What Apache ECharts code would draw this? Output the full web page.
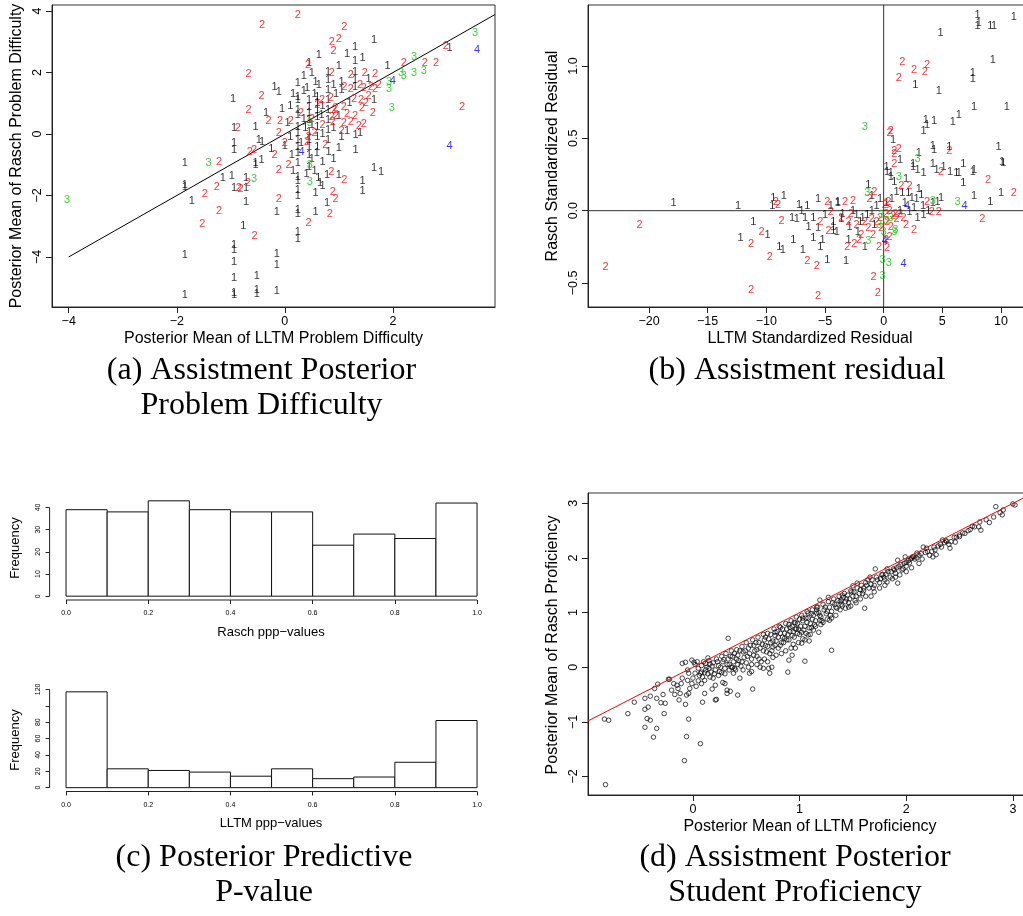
<!DOCTYPE html>
<html><head><meta charset="utf-8">
<script src="https://cdn.jsdelivr.net/npm/echarts@6/dist/echarts.min.js"></script>
<style>html,body{margin:0;padding:0;background:#fff}#c{width:1023px;height:916px}</style>
</head><body><div id="c"></div>
<script>
// ---------- Panel (a): posterior problem difficulty (label = skill count) ----------
const a1 = [[-0.96,1.14],[-0.94,0.2],[-0.94,-0.3],[-0.94,-0.52],[-1.85,-0.94],[-1.15,-1.43],[-0.98,-1.37],[-1.85,-1.72],[-1.85,-1.66],[-0.94,-1.77],[-0.72,-1.77],[-1.72,-2.18],[-0.72,-2.2],[-0.77,-3.0],[-0.94,-3.6],[-0.94,-3.78],[-1.85,-3.94],[-0.94,-4.17],[-0.94,-4.7],[-1.85,-5.24],[-0.94,-5.24],[-0.94,-5.16],
[-0.54,-0.94],[0.24,-0.95],[1.65,-1.1],[1.78,-1.24],[-0.72,-1.43],[0.24,-1.4],[0.24,-1.52],[0.62,-1.44],[0.65,-1.6],[0.78,-1.34],[1.0,-1.34],[1.44,-1.53],[1.44,-1.86],[0.24,-1.82],[0.24,-2.0],[0.57,-1.92],[0.78,-2.25],[-0.15,-2.55],[0.24,-2.48],[0.24,-2.6],[0.57,-2.55],[0.24,-3.2],[0.24,-3.42],[-0.15,-3.9],[-0.15,-4.27],[-0.52,-4.63],[-0.52,-5.08],[-0.52,-5.2],[-0.15,-5.1],
[1.65,3.06],[1.3,2.84],[0.63,2.57],[1.3,2.38],[1.44,2.47],[0.45,2.3],[3.05,2.8],
[0.24,1.66],[0.41,1.5],[0.57,1.7],[0.63,1.6],[-0.19,1.53],[-0.11,1.37],[1.65,1.11],[1.31,-0.03],[1.39,0.03],[-0.54,0.23],[-0.48,-0.2],[-0.42,-0.26],[0.13,-0.68],[0.59,-0.63],[0.81,-0.58],[1.0,-0.46],[1.31,-0.52],[-0.43,-0.85],[-0.54,-1.0],
[0.24,1.2],[0.24,1.11],[0.24,0.78],[0.24,0.62],[0.24,0.23],[0.24,0.03],[0.24,-0.2],[0.24,-0.42],[0.24,-0.62],
[0.45,1.11],[0.45,0.88],[0.45,0.68],[0.45,0.46],[0.45,0.07],[0.45,-0.2],[0.45,-0.42],[0.45,-0.68],[0.45,-1.07],
[0.6,1.2],[0.6,1.01],[0.6,0.78],[0.6,0.55],[0.6,0.23],[0.6,-0.1],[0.6,-0.42],
[0.8,2.02],[0.8,1.76],[0.8,1.43],[0.8,1.11],[0.8,0.78],[0.8,0.46],[0.8,0.13],[0.8,-0.2],
[1.05,1.7],[1.05,1.43],[1.05,-0.1],[1.3,2.02],[1.3,1.76],[1.3,1.53],
[0.05,0.35],[0.1,0.9],[0.15,1.3],[0.3,-0.3],[0.35,0.5],[0.35,1.4],[0.5,0.3],[0.5,-0.8],[0.55,1.3],[0.7,0.9],[0.7,0.0],[0.7,-0.9],[0.9,0.2],[0.9,-0.8],[1.0,0.6],[1.15,0.1],[1.2,1.0],[-0.05,0.8],[-0.25,-0.5],[-0.35,0.7],[0.0,-0.4],[0.15,-1.2],[0.4,-1.3],[0.55,-1.2],[0.7,-1.7],[0.35,1.9],[0.5,2.0],[1.0,2.2],[1.15,2.6],[0.9,1.6],[0.1,-0.1],[0.38,0.2],[0.68,0.62],[0.95,1.3],[1.55,1.8],[1.9,2.2]];
const a2 = [[-0.67,1.95],[-0.67,0.77],[-0.87,0.2],[-1.22,-0.91],[-1.26,-1.72],[-0.85,-1.77],[-1.48,-1.95],[-1.22,-2.5],[-1.53,-2.93],
[-0.11,-1.17],[0.07,-1.0],[0.86,-1.25],[1.1,-1.5],[-0.68,-1.6],[-0.82,-1.8],[0.89,-1.9],[0.94,-2.12],[-0.11,-2.12],[0.83,-2.59],[0.44,-2.9],[-0.56,-3.32],
[0.24,3.88],[-0.42,3.55],[1.1,3.48],[0.87,3.0],[1.0,3.1],[0.9,2.7],[0.43,2.25],[2.98,2.87],[2.2,2.31],[2.59,2.31],[2.8,2.31],[1.67,1.95],[1.48,1.98],[1.22,1.92],[0.87,1.98],[-0.43,1.24],[1.1,1.53],[1.22,1.47],[1.39,1.6],[1.46,1.5],[1.59,1.53],[1.67,1.47],[1.74,1.6],[0.69,1.11],[0.85,1.17],[0.94,0.85],[1.09,0.88],[1.28,1.14],[1.41,1.11],[1.5,1.01],[1.43,0.85],[1.63,0.68],[0.91,0.78],[0.87,0.55],[0.89,0.39],[1.22,0.39],[1.09,0.36],[1.37,0.26],[1.46,0.33],[-0.3,0.42],[-0.09,0.42],[0.11,0.42],[-0.11,0.03],[0.44,-0.1],[0.41,-0.26],[-0.65,-0.58],[-0.57,-0.52],[-0.19,-0.68],[3.28,0.87],
[0.55,0.05],[0.7,0.3],[0.95,0.6],[1.15,0.65],[1.3,0.6],[0.6,0.95],[0.75,-0.35],[1.05,0.1],[0.5,0.5],[1.55,1.25],[0.3,0.7],[0.0,-0.3]];
const a3 = [[-1.41,-0.94],[-4.03,-2.15],[0.46,-1.0],[0.46,-1.56],[-0.57,-1.45],[3.52,3.29],[2.39,2.51],[2.57,2.05],[2.39,1.98],[2.2,1.9],[2.15,1.98],[1.93,1.7],[1.93,1.46],[1.98,0.85],[0.46,0.36]];
const a4 = [[3.56,2.74],[2.0,1.73],[3.05,-0.39],[0.31,-0.58]];
const aLine = [[-4,-4],[3.89,3.89]];

// ---------- Panel (b): standardized residuals ----------
const b1 = [[-17.9,0.05],[-12.4,0.03],[-11.1,-0.08],[-12.2,-0.19],[-9.9,-0.17],[-9.4,0.09],[-9.5,0.03],[-8.9,-0.25],[-8.6,-0.27],[-6.9,-0.27],[-7.7,-0.2],[-4.8,-0.34],[-3.2,-0.35],[-6.0,-0.19],[-5.2,-0.2],[-5.4,-0.25],[-4.3,-0.14],[-8.5,0.1],[-7.2,0.04],[-6.5,0.03],[-5.6,0.08],[-3.9,0.05],[-1.3,0.18],
[-7.8,-0.05],[-7.4,-0.06],[-6.7,-0.05],[-6.0,-0.05],[-6.4,-0.11],[-5.6,-0.12],[-4.3,-0.11],[-4.0,-0.15],[-4.3,-0.08],[-3.6,-0.06],[-2.9,-0.11],[-2.3,-0.03],[-2.0,-0.08],[-4.5,0.03],[-3.9,0.06],[-3.5,-0.02],[-1.4,-0.03],[-1.0,0.0],[-0.6,0.03],
[1.1,0.13],[1.6,0.12],[2.1,0.12],[2.4,0.09],[2.8,0.08],[3.2,0.11],[3.35,0.03],[3.8,0.0],[4.2,0.05],[4.6,0.06],[4.9,0.09],[0.25,0.05],[0.7,0.08],[1.4,0.0],[2.2,-0.01],[2.9,-0.05],[3.4,-0.03],
[0.25,0.3],[0.6,0.26],[2.5,0.32],[3.4,0.26],[4.2,0.32],[4.5,0.28],[5.1,0.3],[5.65,0.27],[6.2,0.26],
[10.0,0.12],[9.1,0.06],[7.7,0.1],[6.8,0.19],[6.8,0.32],[7.7,0.28],[10.2,0.33],
[8.0,1.35],[8.0,1.28],[8.1,1.3],[9.1,1.28],[9.4,1.28],[11.1,1.34],[4.85,1.23],[9.3,1.04],[7.6,0.95],[7.6,0.91],[2.7,0.87],[4.7,0.83],[7.7,0.72],[10.5,0.72],[3.6,0.63],[4.3,0.62],[3.7,0.59],[5.9,0.61],[6.4,0.66],[3.4,0.55],[0.8,0.49],[1.4,0.35],[3.0,0.4],[4.2,0.45],[4.3,0.42],[5.6,0.44],[9.8,0.44],[10.1,0.34],[2.5,0.3],[2.9,0.28],[7.6,0.27],[6.4,0.26],[0.3,0.27],[0.6,0.23],
[-2.6,0.0],[-1.8,-0.05],[-0.8,-0.1],[-3.0,-0.2],[-2.2,-0.15],[-1.6,-0.25],[-5.0,-0.03],[-7.0,0.0],[1.8,0.05],[2.6,0.02],[3.0,0.15],[0.9,0.2],[1.9,0.22],[-0.3,0.08],[-1.0,0.1]];
const b2 = [[-20.8,-0.1],[-23.7,-0.39],[-11.3,-0.23],[-10.4,-0.15],[-9.7,-0.32],[-11.3,-0.55],[-9.0,0.04],[-5.6,-0.59],[-0.5,-0.57],[-0.85,-0.46],[-6.5,-0.35],[-5.7,-0.38],[-3.1,-0.25],[-2.5,-0.23],[-2.1,-0.2],[-1.9,-0.17],[-4.7,-0.14],[-5.4,-0.08],[-4.5,-0.01],[-8.7,-0.07],[-9.2,0.06],[-4.8,0.06],[-3.3,0.06],[-2.6,0.07],[-0.8,0.13],[-1.2,0.08],[1.5,0.17],[2.2,0.17],[0.9,0.32],[4.9,0.27],[8.9,0.21],[11.1,0.12],[8.4,-0.06],[3.7,0.06],[4.1,-0.01],[4.7,-0.01],[2.6,-0.13],[1.9,-0.1],[0.5,-0.18],
[1.6,1.03],[2.6,0.97],[3.7,1.01],[3.5,0.96],[1.3,0.92],[0.5,0.54],[0.6,0.55],[0.9,0.41],[1.3,0.43],[0.9,0.39],[5.6,0.41],
[-0.3,-0.05],[0.2,-0.02],[0.5,0.0],[0.8,-0.04],[1.1,-0.06],[1.4,-0.02],[1.7,-0.05],[-0.6,-0.08],[-0.2,-0.12],[0.3,-0.08],[0.6,-0.11],[1.0,-0.02],[0.1,0.04],[0.4,0.06],[-1.0,-0.06],[-1.6,-0.08],[-2.3,-0.1],[-3.0,-0.08],[-3.6,-0.05],[-2.8,-0.02],[-1.3,-0.12],[-0.9,-0.17],[0.2,-0.2],[-0.4,-0.25],[0.3,-0.26]];
const b3 = [[-0.1,-0.45],[-0.1,-0.34],[0.45,-0.36],[-1.3,-0.21],[-1.4,0.12],[1.3,0.23],[6.3,0.06],[4.2,0.07],[1.0,-0.13],[-1.6,0.58],[2.9,0.36],[-0.4,-0.1],[0.0,-0.15],[0.2,-0.07],[0.6,-0.05],[-0.2,-0.03],[0.9,-0.15]];
const b4 = [[1.7,-0.37],[0.1,-0.21],[6.9,0.03],[2.0,0.03]];
const bHLine = [[-25.2,0],[12.9,0]];
const bVLine = [[0,-0.666],[0,1.422]];

// ---------- Panel (c): posterior predictive p-value histograms ----------
const binEdges = [0,0.1,0.2,0.3,0.4,0.5,0.6,0.7,0.8,0.9,1.0];
const raschCounts = [39,38,43,39,38,38,23,28,26,42];
const lltmCounts = [117,23,21,19,14,23,11,13,31,82];

// ---------- Panel (d): student proficiency ----------
const dPts = [[-0.82,-2.15],[-0.83,-0.95],[-0.79,-0.97],[-0.61,-0.85],[-0.55,-0.64],[-0.45,-1.1],[-0.37,-1.28],[-0.34,-1.12],[-0.43,-0.94],[-0.4,-0.97],[-0.45,-0.77],[-0.42,-0.73],[-0.45,-0.57],[-0.4,-0.53],[-0.34,-0.57],[-0.36,-0.39],[-0.33,-0.31],[-0.26,-0.66],[-0.27,-0.85],[-0.23,-0.22],[-0.22,-0.22],[-0.15,-0.33],[-0.14,-0.39],[-0.12,-0.48],[-0.11,-0.3],[-0.13,-0.6],[-0.07,-0.68],[-0.06,-0.51],[-0.08,-1.71],[-0.06,-1.27],[-0.04,-0.95],[0.07,-1.4],[-0.1,0.07],[-0.07,0.09],[-0.01,0.13],[0.01,0.09],[-0.04,-0.11],[-0.05,-0.24],[-0.01,-0.3],[0.02,-0.11],[-0.03,-0.39],[-0.04,-0.48],[0.09,-0.64],[0.11,-0.48],[0.07,-0.11],[0.08,-0.09],[0.09,-0.18],[0.08,-0.3],[0.11,-0.24],[0.12,0.07],[0.14,0.17],[0.18,0.02],[0.17,-0.09],[0.16,-0.18],[0.18,-0.4],[0.21,-0.33],[0.21,-0.6],[0.22,-0.59],[0.28,-0.28],[0.3,-0.3],[0.32,-0.42],[0.35,-0.44],[0.32,-0.48],[0.42,-0.51],[0.56,-0.4],[0.33,0.53],[0.36,0.0],[0.38,-0.11],[0.44,-0.2],[0.53,-0.11],[0.71,-0.02],[0.72,-0.11],[0.66,-0.02],
[1.3,0.31],[0.89,-0.09],[1.05,0.11],[0.9,0.13],[0.93,0.22],[0.96,0.35],[1.02,0.44],[1.05,0.5],[1.09,0.48],[0.74,0.0],[1.61,1.08],[1.28,0.86],[1.67,1.3],[1.92,1.54],[2.41,2.18],[2.46,2.29],[2.47,2.38],[2.25,2.02],[2.28,2.06],[2.64,2.57],[2.68,2.57],[2.7,2.51],[2.69,2.66],[2.82,2.75],[2.88,2.83],[2.9,2.79],[2.91,2.88],[2.84,2.94],[3.0,2.99],[3.02,2.97],[2.53,2.46],[2.5,2.39],[2.34,2.33],[2.36,2.28],[2.16,2.2],[2.19,2.18],[2.1,2.09],[2.05,2.0],[2.06,2.02],[2.03,1.91],[1.99,2.02],[1.92,1.96],[1.97,1.8],[1.94,1.69],[1.82,1.8],[1.77,1.69],[1.82,1.56],[1.71,1.8],[1.66,1.65],[1.64,1.6],[1.54,1.54],[1.5,1.49],[1.49,1.38],[1.6,1.45],[1.4,1.32],[1.46,1.1],[1.39,1.23],[1.27,1.28],[1.19,1.23],[1.16,1.1],[1.16,0.99],[1.19,0.86],[1.18,0.64],[1.08,0.99],[1.03,0.9],[0.96,0.81],[0.97,0.7],[0.91,0.73],[0.82,0.73],[0.77,0.64],[0.75,0.37],[0.82,0.4],[0.86,0.53],[1.02,0.64],[1.11,0.72],[1.08,0.59],
[0.02,0.05],[0.05,-0.02],[0.06,-0.15],[0.1,0.1],[0.12,-0.05],[0.15,0.12],[0.15,-0.02],[0.19,0.08],[0.2,-0.12],[0.22,0.15],[0.24,0.03],[0.25,-0.08],[0.27,0.2],[0.28,0.1],[0.3,-0.02],[0.31,0.25],[0.33,0.15],[0.34,0.05],[0.36,0.3],[0.37,0.2],[0.38,0.1],[0.4,-0.05],[0.41,0.32],[0.42,0.22],[0.43,0.12],[0.45,0.02],[0.46,0.38],[0.47,0.28],[0.48,0.18],[0.5,0.08],[0.5,0.45],[0.52,0.35],[0.53,0.25],[0.55,0.15],[0.56,0.5],[0.57,0.4],[0.58,0.3],[0.6,0.2],[0.61,0.55],[0.62,0.45],[0.63,0.35],[0.64,0.1],[0.66,0.6],[0.67,0.5],[0.68,0.4],[0.69,0.28],[0.7,0.62],[0.71,0.52],[0.73,0.45],[0.74,0.3],[0.76,0.7],[0.77,0.58],[0.78,0.48],[0.8,0.35],[0.81,0.75],[0.82,0.62],[0.84,0.55],[0.85,0.45],[0.87,0.8],[0.88,0.7],[0.89,0.6],[0.9,0.5],[0.92,0.85],[0.93,0.75],[0.94,0.65],[0.95,0.55],[0.97,0.92],[0.98,0.8],[0.99,0.7],[1.0,0.6],[1.02,0.95],[1.03,0.85],[1.05,0.75],[1.07,1.02],[1.08,0.9],[1.1,0.8],[1.12,1.05],[1.13,0.95],[1.15,0.85],[1.17,1.1],[1.18,1.0],[1.2,0.92],[1.22,1.15],[1.23,1.05],[1.25,0.98],[1.27,1.2],[1.28,1.1],[1.3,1.02],[1.32,1.25],[1.33,1.15],[1.35,1.08],[1.37,1.3],[1.38,1.2],[1.4,1.12],[1.42,1.35],[1.44,1.25],[1.46,1.18],[1.48,1.4],[1.5,1.3],[1.52,1.22],[1.54,1.45],[1.56,1.35],[1.58,1.5],[1.6,1.4],[1.62,1.55],[1.65,1.45],[1.68,1.6],[1.7,1.5],[1.72,1.65],[1.75,1.55],[1.78,1.7],[1.8,1.6],[1.83,1.75],[1.85,1.65],[1.88,1.8],[1.9,1.72],[1.93,1.85],[1.96,1.78],[1.98,1.9],[2.0,1.85],[2.02,1.95],[2.08,1.98],[2.12,2.05],[2.15,1.98],[2.2,2.12],[2.22,2.05],[2.27,2.15],[2.3,2.22],[2.33,2.2],[2.38,2.3],[2.42,2.3],[2.45,2.38],[2.55,2.45],[2.6,2.52],
[-0.3,-0.65],[-0.28,-0.5],[-0.2,-0.42],[-0.18,-0.3],[-0.17,-0.5],[-0.1,-0.2],[-0.05,-0.05],[0.0,-0.2],[0.03,-0.35],[0.05,-0.25],
[0.13,0.0],[0.16,0.06],[0.21,-0.05],[0.23,0.1],[0.26,0.0],[0.29,0.14],[0.32,0.05],[0.35,0.2],[0.37,0.0],[0.39,0.25],[0.41,0.15],[0.44,0.3],[0.46,0.1],[0.49,0.3],[0.51,0.2],[0.54,0.4],[0.55,0.05],[0.57,0.22],[0.59,0.45],[0.6,0.32],[0.62,0.15],[0.65,0.42],[0.66,0.3],[0.68,0.55],[0.7,0.38],[0.72,0.25],[0.73,0.6],[0.75,0.48],[0.77,0.4],[0.79,0.65],[0.8,0.55],[0.83,0.45],[0.84,0.7],[0.86,0.62],[0.88,0.5],[0.9,0.78],[0.91,0.65],[0.93,0.58],[0.95,0.82],[0.96,0.7],[0.98,0.62],[1.0,0.88],[1.01,0.75],[1.04,0.68],[1.06,0.9],[1.07,0.82],[1.09,0.72],[1.11,0.98],[1.12,0.88],[1.14,0.78],[1.16,1.05],[1.19,0.95],[1.21,0.85],[1.24,1.1],[1.26,1.02],[1.29,0.95],[1.31,1.18],[1.34,1.1],[1.36,1.22],[1.39,1.15],[1.41,1.28],[1.43,1.2],[1.45,1.32],[1.47,1.25],[1.51,1.38],[1.53,1.3],[1.57,1.42],[1.59,1.35],[1.63,1.5],[1.67,1.52],[1.69,1.45],[1.73,1.6],[1.76,1.62],[1.79,1.65],[1.81,1.7],[1.86,1.75],[1.89,1.78],[1.91,1.82],[1.95,1.88],[2.0,1.92],[2.04,1.98],[2.07,2.02],[2.1,2.0],[2.14,2.08],[2.18,2.1],[2.24,2.12],[2.26,2.2],[2.32,2.25],[2.37,2.32],[2.4,2.25],[2.5,2.42],[2.58,2.5],[2.62,2.58],[2.75,2.7],[2.78,2.65],
[0.04,0.1],[0.08,0.03],[0.11,-0.1],[0.14,-0.12],[0.19,-0.2],[0.24,-0.15],[0.27,-0.1],[0.3,-0.12],[0.34,-0.05],[0.39,-0.02],[0.42,0.05],[0.47,-0.05],[0.52,0.0],[0.55,-0.08],[0.6,0.05],[0.63,0.0],[0.67,0.15],[0.7,0.1],[0.75,0.18],[0.78,0.22],[0.83,0.25],[0.87,0.3],[0.92,0.35],[0.94,0.42],[0.99,0.45],[1.03,0.52],[1.06,0.62],[1.1,0.6],[1.13,0.68],[1.15,0.75],[1.2,0.78],[1.22,0.82],[1.26,0.88],[1.3,0.9],[1.34,0.95],[1.38,1.05],[1.43,1.08],[1.48,1.12],[1.53,1.18],[1.57,1.25],[1.62,1.3],[1.7,1.38],[1.75,1.45],[1.8,1.5],[1.87,1.62],[1.9,1.65],[2.0,1.75],[2.05,1.82],[2.12,1.9]];
const dLine = [[-0.984,-0.984],[3.17,3.17]];

// ---------- tick values ----------
const aXTicks=[-4,-2,0,2], aYTicks=[-4,-2,0,2,4];
const bXTicks=[-20,-15,-10,-5,0,5,10], bYTicks=[-0.5,0,0.5,1.0];
const histXTicks=[0,0.2,0.4,0.6,0.8,1.0];
const raschYTicks=[0,10,20,30,40], lltmYTicks=[0,20,40,60,80,100,120], lltmYLabels=[0,20,40,60,80,120];
const dXTicks=[0,1,2,3], dYTicks=[-2,-1,0,1,2,3];

const minus = v => String(v).replace('-', '\u2212');
const fix1 = v => v.toFixed(1).replace('-', '\u2212');
const SANS = 'Liberation Sans';

function axis(grid, min, max, ticks, labels, fmt, o) {
  return {
    type:'value', gridIndex:grid, min:min, max:max,
    axisLine:{show:o.line, onZero:false, lineStyle:{color:'#222', width:1}},
    axisTick:{show:true, inside:false, length:o.tick, customValues:ticks, lineStyle:{color:'#222', width:1}},
    axisLabel:{show:true, customValues:labels, formatter:fmt, fontSize:o.fs, color:'#000', margin:o.margin,
      rotate:o.rot||0, fontFamily:SANS, hideOverlap:false},
    splitLine:{show:false}
  };
}
function digits(ax, data, digit, color) {
  return {type:'scatter', xAxisIndex:ax, yAxisIndex:ax, data:data, symbol:'circle', symbolSize:1,
    itemStyle:{color:'rgba(0,0,0,0)'}, silent:true, clip:false, z:3,
    label:{show:true, position:'inside', formatter:digit, color:color, fontSize:11, fontFamily:SANS}};
}
function seg(ax, data, color) {
  return {type:'line', xAxisIndex:ax, yAxisIndex:ax, data:data, symbol:'none', silent:true, clip:false,
    lineStyle:{color:color, width:1}, z:2};
}
function hist(ax, counts) {
  const data = counts.map((c,i)=>[binEdges[i], binEdges[i+1], c]);
  return {type:'custom', xAxisIndex:ax, yAxisIndex:ax, data:data, silent:true, encode:{x:[0,1], y:2},
    renderItem:(p, api)=>{
      const p0 = api.coord([api.value(0), api.value(2)]);
      const p1 = api.coord([api.value(1), 0]);
      return {type:'rect', shape:{x:p0[0], y:p0[1], width:p1[0]-p0[0], height:p1[1]-p0[1]},
        style:{fill:'#fff', stroke:'#111', lineWidth:1}};
    }};
}
function txt(x, y, s, font, rot) {
  return {type:'text', x:x, y:y, rotation:rot||0, silent:true,
    style:{text:s, font:font, fill:'#000', textAlign:'center', textVerticalAlign:'middle', align:'center', verticalAlign:'middle'}};
}

const H = {min:-1.72, max:44.72}, L = {min:-4.68, max:121.68};
const boxStyle = {show:true, borderColor:'#333', borderWidth:1, backgroundColor:'rgba(0,0,0,0)'};
const so = {line:true, tick:6, fs:12.5, margin:8};
const syo = {line:true, tick:6, fs:12.5, margin:8, rot:90};
const ho = {line:false, tick:4, fs:7, margin:10};
const hyo = {line:false, tick:4, fs:7, margin:8, rot:90};
const CAP = '32px "Liberation Serif"', AX = '16px "Liberation Sans"', HX = '13px "Liberation Sans"';

const option = {
  animation:false,
  textStyle:{fontFamily:SANS},
  grid:[
    Object.assign({left:52, top:5, width:443, height:302, outerBoundsMode:'none'}, boxStyle),
    Object.assign({left:588, top:5, width:447, height:302, outerBoundsMode:'none'}, boxStyle),
    {left:49.6, top:497, width:443.9, height:103, outerBoundsMode:'none'},
    {left:49.6, top:688, width:443.9, height:103.5, outerBoundsMode:'none'},
    Object.assign({left:588, top:493, width:443, height:302, outerBoundsMode:'none'}, boxStyle)
  ],
  xAxis:[
    axis(0, -4.31, 3.89, aXTicks, aXTicks, minus, so),
    axis(1, -25.2, 12.9, bXTicks, bXTicks, minus, so),
    axis(2, -0.04, 1.04, histXTicks, histXTicks, fix1, ho),
    axis(3, -0.04, 1.04, histXTicks, histXTicks, fix1, ho),
    axis(4, -0.984, 3.17, dXTicks, dXTicks, minus, so)
  ],
  yAxis:[
    axis(0, -5.63, 4.2, aYTicks, aYTicks, minus, syo),
    axis(1, -0.666, 1.422, bYTicks, bYTicks, fix1, syo),
    axis(2, H.min, H.max, raschYTicks, raschYTicks, minus, hyo),
    axis(3, L.min, L.max, lltmYTicks, lltmYLabels, minus, hyo),
    axis(4, -2.34, 3.19, dYTicks, dYTicks, minus, syo)
  ],
  series:[
    seg(0, aLine, '#000'),
    digits(0, a1, '1', '#000'), digits(0, a2, '2', '#FF0000'), digits(0, a3, '3', '#00CD00'), digits(0, a4, '4', '#0000FF'),
    seg(1, bHLine, '#333'), seg(1, bVLine, '#333'),
    digits(1, b1, '1', '#000'), digits(1, b2, '2', '#FF0000'), digits(1, b3, '3', '#00CD00'), digits(1, b4, '4', '#0000FF'),
    hist(2, raschCounts), hist(3, lltmCounts),
    seg(2, [[0,H.min],[1,H.min]], '#222'), seg(2, [[-0.04,0],[-0.04,40]], '#222'),
    seg(3, [[0,L.min],[1,L.min]], '#222'), seg(3, [[-0.04,0],[-0.04,120]], '#222'),
    {type:'scatter', xAxisIndex:4, yAxisIndex:4, data:dPts, symbol:'circle', symbolSize:4.5, silent:true,
      itemStyle:{color:'rgba(0,0,0,0)', borderColor:'#000', borderWidth:0.9}},
    Object.assign(seg(4, dLine, '#FF0000'), {z:4})
  ],
  graphic:[
    txt(273.5, 339, 'Posterior Mean of LLTM Problem Difficulty', AX),
    txt(17, 156, 'Posterior Mean of Rasch Problem Difficulty', AX, Math.PI/2),
    txt(810, 339, 'LLTM Standardized Residual', AX),
    txt(553, 156, 'Rasch Standardized Residual', AX, Math.PI/2),
    txt(810, 827, 'Posterior Mean of LLTM Proficiency', AX),
    txt(553, 645, 'Posterior Mean of Rasch Proficiency', AX, Math.PI/2),
    txt(271, 632, 'Rasch ppp\u2212values', HX),
    txt(15, 548, 'Frequency', HX, Math.PI/2),
    txt(271, 823, 'LLTM ppp\u2212values', HX),
    txt(15, 740, 'Frequency', HX, Math.PI/2),
    txt(261.5, 371, '(a) Assistment Posterior', CAP),
    txt(261.5, 406, 'Problem Difficulty', CAP),
    txt(797, 371, '(b) Assistment residual', CAP),
    txt(264, 858, '(c) Posterior Predictive', CAP),
    txt(264, 893, 'P-value', CAP),
    txt(795, 858, '(d) Assistment Posterior', CAP),
    txt(795, 893, 'Student Proficiency', CAP)
  ]
};
const chart = echarts.init(document.getElementById('c'), null, {renderer:'canvas'});
chart.setOption(option);
</script></body></html>
